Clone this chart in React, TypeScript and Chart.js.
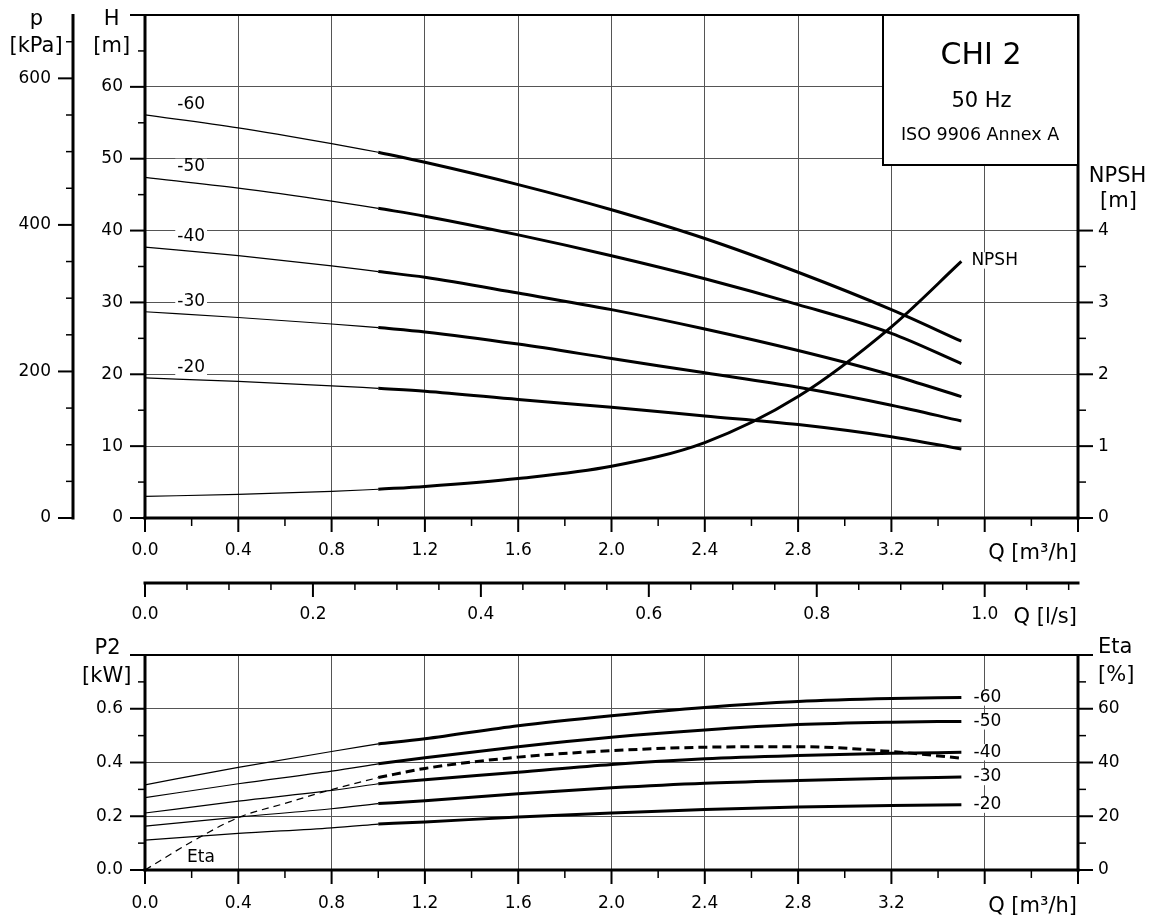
import React, { useEffect, useRef } from 'react';
import { Chart, registerables } from 'chart.js';

Chart.register(...registerables);

// ---------- data ----------
const Q_M3H = [0, 0.4, 0.8, 1.0, 1.2, 1.6, 2.0, 2.4, 2.8, 3.2, 3.5];
const SPEED_LABELS = ['-60', '-50', '-40', '-30', '-20'];

const H_60 = [56.1, 54.3, 52.1, 50.9, 49.5, 46.4, 42.9, 38.9, 34.2, 29.0, 24.6];
const H_50 = [47.4, 45.9, 44.1, 43.1, 42.0, 39.4, 36.5, 33.3, 29.7, 25.7, 21.5];
const H_40 = [37.7, 36.5, 35.1, 34.3, 33.5, 31.3, 29.0, 26.3, 23.3, 19.9, 16.9];
const H_30 = [28.7, 27.9, 27.0, 26.5, 25.9, 24.2, 22.2, 20.2, 18.2, 15.7, 13.5];
const H_20 = [19.5, 19.0, 18.4, 18.05, 17.65, 16.5, 15.4, 14.2, 13.0, 11.3, 9.6];
const NPSH_M = [0.30, 0.33, 0.37, 0.40, 0.44, 0.55, 0.72, 1.05, 1.69, 2.66, 3.57];

const P2_60 = [0.317, 0.382, 0.441, 0.469, 0.488, 0.537, 0.574, 0.605, 0.627, 0.638, 0.642];
const P2_50 = [0.269, 0.321, 0.368, 0.395, 0.418, 0.459, 0.494, 0.521, 0.541, 0.550, 0.553];
const P2_40 = [0.212, 0.256, 0.296, 0.321, 0.336, 0.364, 0.393, 0.414, 0.426, 0.434, 0.438];
const P2_30 = [0.163, 0.197, 0.228, 0.247, 0.258, 0.284, 0.306, 0.323, 0.333, 0.341, 0.346];
const P2_20 = [0.111, 0.136, 0.157, 0.171, 0.179, 0.197, 0.212, 0.225, 0.234, 0.240, 0.243];

const Q_ETA = [0, 0.2, 0.4, 0.6, 0.8, 1.0, 1.2, 1.6, 2.0, 2.4, 2.8, 3.2, 3.5];
const ETA_PCT = [0, 10.5, 19.5, 24.8, 29.9, 34.4, 37.8, 42.0, 44.4, 45.7, 45.9, 44.1, 41.6];

const H_SERIES = [H_60, H_50, H_40, H_30, H_20];
const P2_SERIES = [P2_60, P2_50, P2_40, P2_30, P2_20];

const Q_MAX = 4.0;
const H_MAX = 70;
const P_MAX = H_MAX * 9.80665; // kPa equivalent
const NPSH_MAX = 7;
const P2_MAX = 0.8;
const ETA_MAX = 80;
const THICK_FROM = 1.0;

// ---------- helpers ----------
const FONT = "'DejaVu Sans', sans-serif";

function seg(qs: number[], vs: number[], thick: boolean) {
  const pts: { x: number; y: number }[] = [];
  for (let i = 0; i < qs.length; i++) {
    if (thick ? qs[i] >= THICK_FROM : qs[i] <= THICK_FROM) pts.push({ x: qs[i], y: vs[i] });
  }
  return pts;
}

function curve(qs: number[], vs: number[], yAxisID: string, dashed = false) {
  const base = {
    xAxisID: 'x',
    yAxisID,
    borderColor: '#000',
    pointRadius: 0,
    fill: false,
    cubicInterpolationMode: 'monotone',
    borderCapStyle: 'butt',
  };
  return [
    { ...base, data: seg(qs, vs, false), borderWidth: 1.2, borderDash: dashed ? [7, 5] : [] },
    { ...base, data: seg(qs, vs, true), borderWidth: 3, borderDash: dashed ? [9, 5] : [] },
  ];
}

function line(ctx: any, x1: number, y1: number, x2: number, y2: number, w: number) {
  ctx.lineWidth = w;
  ctx.beginPath();
  ctx.moveTo(x1, y1);
  ctx.lineTo(x2, y2);
  ctx.stroke();
}

function text(
  ctx: any,
  s: string,
  x: number,
  y: number,
  size: number,
  align: string = 'center',
  baseline: string = 'middle',
  bg = false
) {
  ctx.font = `${size}px ${FONT}`;
  ctx.textAlign = align;
  ctx.textBaseline = baseline;
  if (bg) {
    const w = ctx.measureText(s).width;
    const x0 = align === 'center' ? x - w / 2 : align === 'right' ? x - w : x;
    ctx.fillStyle = '#fff';
    ctx.fillRect(x0 - 2, y - size * 0.48, w + 4, size * 0.96);
  }
  ctx.fillStyle = '#000';
  ctx.fillText(s, x, y);
}

const GRID = { color: '#555', lineWidth: 1, drawTicks: false };
const NOGRID = { display: false, drawTicks: false };
const TICKFONT = { size: 17, family: FONT };

function noPad(s: any) {
  s.paddingTop = 0;
  s.paddingBottom = 0;
  s.paddingLeft = 0;
  s.paddingRight = 0;
}

function xScale(height: number, pad: number) {
  return {
    type: 'linear',
    position: 'bottom',
    min: 0,
    max: Q_MAX,
    weight: 0,
    border: { display: false },
    grid: GRID,
    ticks: {
      stepSize: 0.4,
      padding: pad,
      font: TICKFONT,
      color: '#000',
      maxRotation: 0,
      autoSkip: false,
      callback: (v: any) => (Number(v) > 3.3 ? '' : Number(v).toFixed(1)),
    },
    afterFit: (s: any) => {
      s.height = height;
      noPad(s);
    },
  };
}

// ---------- plugins ----------
const topDecor = {
  id: 'topDecor',
  afterDraw(chart: any) {
    const ctx = chart.ctx;
    const { x: sx, xL, y: sy, yP, yN } = chart.scales;
    const { left: L, right: R, top: T, bottom: B } = chart.chartArea;
    ctx.save();
    ctx.strokeStyle = '#000';
    ctx.lineCap = 'butt';

    // p [kPa] axis
    const px = yP.right;
    line(ctx, px, T - 1, px, B + 1.5, 3);
    for (let i = 0; i * 50 <= P_MAX + 1e-6; i++) {
      const y = yP.getPixelForValue(i * 50);
      const major = i % 4 === 0;
      line(ctx, px - (major ? 15 : 7), y, px, y, major ? 2 : 1.5);
    }
    // H axis
    line(ctx, L, T - 1, L, B + 1.5, 3);
    for (let i = 0; i * 5 <= H_MAX; i++) {
      const y = sy.getPixelForValue(i * 5);
      const major = i % 2 === 0;
      line(ctx, L - (major ? 15 : 7), y, L, y, major ? 2 : 1.5);
    }
    // top border
    line(ctx, L, T, R, T, 2);
    // right NPSH axis
    line(ctx, R, T - 1, R, B + 1.5, 3);
    for (let i = 0; i <= 8; i++) {
      const y = yN.getPixelForValue(i * 0.5);
      const major = i % 2 === 0;
      line(ctx, R, y, R + (major ? 15 : 8), y, major ? 2 : 1.5);
    }
    // Q m3/h axis
    line(ctx, L - 1.5, B, R + 1.5, B, 3);
    for (let i = 0; i * 0.2 <= Q_MAX + 1e-9; i++) {
      const x = sx.getPixelForValue(i * 0.2);
      const major = i % 2 === 0;
      line(ctx, x, B, x, B + (major ? 14 : 8), major ? 2 : 1.5);
    }
    // Q l/s axis
    const ly = xL.top;
    line(ctx, L - 1.5, ly, R + 1.5, ly, 3);
    for (let i = 0; i * 0.05 <= xL.max + 1e-9; i++) {
      const x = xL.getPixelForValue(i * 0.05);
      const major = i % 4 === 0;
      line(ctx, x, ly, x, ly + (major ? 14 : 7), major ? 2 : 1.5);
    }

    // title box
    const bw = 195;
    const bh = 150;
    const bx = R - bw;
    ctx.fillStyle = '#fff';
    ctx.fillRect(bx, T, bw, bh);
    ctx.lineWidth = 2;
    ctx.strokeRect(bx, T, bw, bh);
    text(ctx, 'CHI 2', bx + 98, T + 41, 30);
    text(ctx, '50 Hz', bx + 98.5, T + 87, 21);
    text(ctx, 'ISO 9906 Annex A', bx + 97, T + 120, 17.5);

    // axis titles
    text(ctx, 'p', px - 36.5, 25, 21, 'center', 'alphabetic');
    text(ctx, '[kPa]', px - 37, 47, 21);
    text(ctx, 'H', L - 33.3, 25, 21, 'center', 'alphabetic');
    text(ctx, '[m]', L - 33.3, 47, 21);
    text(ctx, 'NPSH', R + 39.5, 177, 21);
    text(ctx, '[m]', R + 40.5, 202, 21);
    text(ctx, 'Q [m³/h]', R - 1, B + 41, 21, 'right', 'alphabetic');
    text(ctx, 'Q [l/s]', R - 1, ly + 40, 21, 'right', 'alphabetic');

    // curve labels
    const lx = sx.getPixelForValue(0.2);
    H_SERIES.forEach((s, i) => {
      text(ctx, SPEED_LABELS[i], lx - 0.5, sy.getPixelForValue(s[0]) - 10.5, 17, 'center', 'middle', true);
    });
    const nx = sx.getPixelForValue(Q_M3H[Q_M3H.length - 1]);
    const ny = yN.getPixelForValue(NPSH_M[NPSH_M.length - 1]);
    text(ctx, 'NPSH', nx + 10, ny - 1, 17, 'left', 'middle', true);
    ctx.restore();
  },
};

const bottomDecor = {
  id: 'bottomDecor',
  afterDraw(chart: any) {
    const ctx = chart.ctx;
    const { x: sx, y: sy, yE } = chart.scales;
    const { left: L, right: R, top: T, bottom: B } = chart.chartArea;
    ctx.save();
    ctx.strokeStyle = '#000';
    ctx.lineCap = 'butt';

    // P2 axis
    line(ctx, L, T - 1, L, B + 1.5, 3);
    for (let i = 0; i <= 8; i++) {
      const y = sy.getPixelForValue(i * 0.1);
      const major = i % 2 === 0;
      line(ctx, L - (major ? 15 : 7), y, L, y, major ? 2 : 1.5);
    }
    // top border
    line(ctx, L, T, R, T, 2);
    // Eta axis
    line(ctx, R, T - 1, R, B + 1.5, 3);
    for (let i = 0; i * 10 <= ETA_MAX; i++) {
      const y = yE.getPixelForValue(i * 10);
      const major = i % 2 === 0;
      line(ctx, R, y, R + (major ? 15 : 8), y, major ? 2 : 1.5);
    }
    // Q axis
    line(ctx, L - 1.5, B, R + 1.5, B, 3);
    for (let i = 0; i * 0.2 <= Q_MAX + 1e-9; i++) {
      const x = sx.getPixelForValue(i * 0.2);
      const major = i % 2 === 0;
      line(ctx, x, B, x, B + (major ? 14 : 8), major ? 2 : 1.5);
    }

    // titles
    text(ctx, 'P2', L - 37.5, 19, 21);
    text(ctx, '[kW]', L - 38.3, 47, 21);
    text(ctx, 'Eta', R + 20, 17.5, 21, 'left');
    text(ctx, '[%]', R + 20, 45.5, 21, 'left');
    text(ctx, 'Q [m³/h]', R - 1, B + 42, 21, 'right', 'alphabetic');

    // speed labels at curve ends
    const ex = sx.getPixelForValue(Q_M3H[Q_M3H.length - 1]) + 26;
    P2_SERIES.forEach((s, i) => {
      text(ctx, SPEED_LABELS[i], ex, sy.getPixelForValue(s[s.length - 1]), 17, 'center', 'middle', true);
    });
    text(ctx, 'Eta', sx.getPixelForValue(0.24), sy.getPixelForValue(0.048), 17, 'center', 'middle', true);
    ctx.restore();
  },
};

// ---------- configs ----------
function topConfig(): any {
  const datasets: any[] = [];
  H_SERIES.forEach((s) => datasets.push(...curve(Q_M3H, s, 'y')));
  datasets.push(...curve(Q_M3H, NPSH_M, 'yN'));
  return {
    type: 'line',
    data: { datasets },
    plugins: [topDecor],
    options: {
      responsive: false,
      maintainAspectRatio: false,
      animation: false,
      devicePixelRatio: 1,
      events: [],
      layout: { padding: { top: 15, left: 0, right: 0, bottom: 0 } },
      plugins: { legend: { display: false }, tooltip: { enabled: false }, title: { display: false } },
      scales: {
        x: xScale(65, 22),
        xL: {
          type: 'linear',
          position: 'bottom',
          min: 0,
          max: Q_MAX / 3.6,
          weight: 1,
          border: { display: false },
          grid: NOGRID,
          ticks: {
            stepSize: 0.2,
            padding: 21,
            includeBounds: false,
            font: TICKFONT,
            color: '#000',
            maxRotation: 0,
            autoSkip: false,
            callback: (v: any) => (Number(v) > 1.05 ? '' : Number(v).toFixed(1)),
          },
          afterFit: (s: any) => {
            s.height = 47;
            noPad(s);
          },
        },
        yP: {
          type: 'linear',
          position: 'left',
          min: 0,
          max: P_MAX,
          weight: 1,
          border: { display: false },
          grid: NOGRID,
          ticks: {
            stepSize: 200,
            padding: 22,
            includeBounds: false,
            font: TICKFONT,
            color: '#000',
            callback: (v: any) => String(Math.round(Number(v))),
          },
          afterFit: (s: any) => {
            s.width = 73;
            noPad(s);
          },
        },
        y: {
          type: 'linear',
          position: 'left',
          min: 0,
          max: H_MAX,
          weight: 0,
          border: { display: false },
          grid: GRID,
          ticks: {
            stepSize: 10,
            padding: 22,
            font: TICKFONT,
            color: '#000',
            callback: (v: any) => (Number(v) > 65 ? '' : String(v)),
          },
          afterFit: (s: any) => {
            s.width = 72;
            noPad(s);
          },
        },
        yN: {
          type: 'linear',
          position: 'right',
          min: 0,
          max: NPSH_MAX,
          border: { display: false },
          grid: NOGRID,
          ticks: {
            stepSize: 1,
            padding: 20,
            font: TICKFONT,
            color: '#000',
            callback: (v: any) => (Number(v) > 4.5 ? '' : String(v)),
          },
          afterFit: (s: any) => {
            s.width = 74;
            noPad(s);
          },
        },
      },
    },
  };
}

function bottomConfig(): any {
  const datasets: any[] = [];
  P2_SERIES.forEach((s) => datasets.push(...curve(Q_M3H, s, 'y')));
  datasets.push(...curve(Q_ETA, ETA_PCT, 'yE', true));
  return {
    type: 'line',
    data: { datasets },
    plugins: [bottomDecor],
    options: {
      responsive: false,
      maintainAspectRatio: false,
      animation: false,
      devicePixelRatio: 1,
      events: [],
      layout: { padding: { top: 25, left: 0, right: 0, bottom: 0 } },
      plugins: { legend: { display: false }, tooltip: { enabled: false }, title: { display: false } },
      scales: {
        x: xScale(50, 23),
        y: {
          type: 'linear',
          position: 'left',
          min: 0,
          max: P2_MAX,
          border: { display: false },
          grid: GRID,
          ticks: {
            stepSize: 0.2,
            padding: 22,
            font: TICKFONT,
            color: '#000',
            callback: (v: any) => (Number(v) > 0.75 ? '' : Number(v).toFixed(1)),
          },
          afterFit: (s: any) => {
            s.width = 145;
            noPad(s);
          },
        },
        yE: {
          type: 'linear',
          position: 'right',
          min: 0,
          max: ETA_MAX,
          border: { display: false },
          grid: NOGRID,
          ticks: {
            stepSize: 20,
            padding: 20,
            font: TICKFONT,
            color: '#000',
            callback: (v: any) => (Number(v) > 70 ? '' : String(v)),
          },
          afterFit: (s: any) => {
            s.width = 74;
            noPad(s);
          },
        },
      },
    },
  };
}

export default function App() {
  const topRef = useRef<HTMLCanvasElement>(null);
  const botRef = useRef<HTMLCanvasElement>(null);

  useEffect(() => {
    Chart.defaults.font.family = FONT;
    Chart.defaults.color = '#000';
    const top = new Chart(topRef.current as HTMLCanvasElement, topConfig());
    const bot = new Chart(botRef.current as HTMLCanvasElement, bottomConfig());
    return () => {
      top.destroy();
      bot.destroy();
    };
  }, []);

  return (
    <div style={{ position: 'absolute', left: 0, top: 0, width: 1152, height: 920, background: '#fff' }}>
      <canvas
        ref={topRef}
        width={1152}
        height={630}
        style={{ position: 'absolute', left: 0, top: 0, width: 1152, height: 630 }}
      />
      <canvas
        ref={botRef}
        width={1152}
        height={290}
        style={{ position: 'absolute', left: 0, top: 630, width: 1152, height: 290 }}
      />
    </div>
  );
}
